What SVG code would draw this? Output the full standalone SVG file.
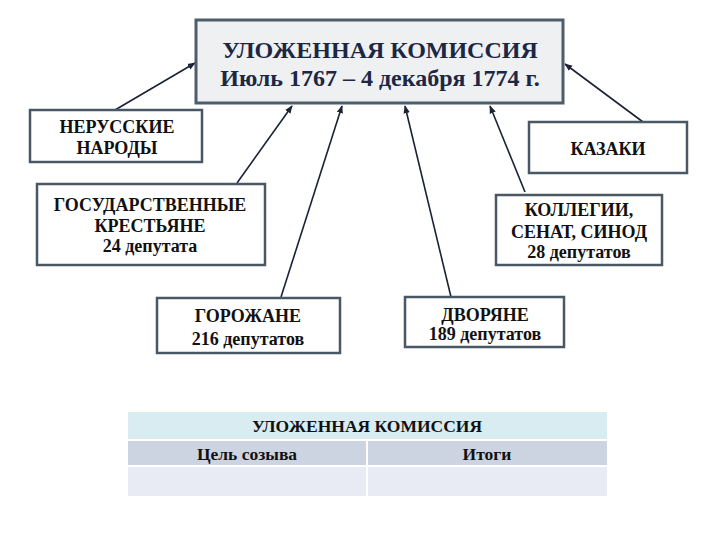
<svg xmlns="http://www.w3.org/2000/svg" width="720" height="540" viewBox="0 0 720 540">
<style>
.box{fill:#ffffff;stroke:#4a5866;stroke-width:2.5}
.main{fill:#eef0f1;stroke:#4f5d6b;stroke-width:3}
.t{font-family:"Liberation Serif","Times New Roman","DejaVu Serif",serif;font-weight:bold;text-anchor:middle;fill:#111111}
.cap{font-size:18px}
.num{font-size:18px}
.title{font-size:24px;fill:#1c2744}
.conn line{stroke:#1c2236;stroke-width:1.6;marker-end:url(#ah)}
.th{font-size:17.5px}
</style>
<defs>
<marker id="ah" viewBox="0 0 10 10" refX="9" refY="5" markerWidth="5" markerHeight="5" orient="auto" markerUnits="strokeWidth">
<path d="M0,1 L10,5 L0,9 z" fill="#1c2236"/>
</marker>
</defs>
<rect x="0" y="0" width="720" height="540" fill="#ffffff"/>
<g id="connectors" class="conn">
<line x1="115" y1="110" x2="195" y2="63"/>
<line x1="643" y1="122" x2="565" y2="64"/>
<line x1="237" y1="183" x2="292" y2="106"/>
<line x1="281" y1="297" x2="342" y2="106"/>
<line x1="451" y1="297" x2="405" y2="106"/>
<line x1="525" y1="192" x2="490" y2="106"/>
</g>
<g id="main">
<rect class="main" x="196" y="20" width="367" height="83"/>
<text class="t title" x="380" y="58">УЛОЖЕННАЯ КОМИССИЯ</text>
<text class="t title" x="380" y="86">Июль 1767 – 4 декабря 1774 г.</text>
</g>
<g id="nerusskie">
<rect class="box" x="30" y="110" width="172" height="52"/>
<text class="t cap" x="117" y="133">НЕРУССКИЕ</text>
<text class="t cap" x="117" y="154">НАРОДЫ</text>
</g>
<g id="krestyane">
<rect class="box" x="37" y="184" width="228" height="81"/>
<text class="t cap" x="150" y="211">ГОСУДАРСТВЕННЫЕ</text>
<text class="t cap" x="150" y="232">КРЕСТЬЯНЕ</text>
<text class="t num" x="150" y="252">24 депутата</text>
</g>
<g id="kazaki">
<rect class="box" x="529" y="122" width="158" height="51"/>
<text class="t cap" x="608" y="155">КАЗАКИ</text>
</g>
<g id="kollegii">
<rect class="box" x="496" y="195" width="166" height="70"/>
<text class="t cap" x="579" y="216">КОЛЛЕГИИ,</text>
<text class="t cap" x="579" y="238">СЕНАТ, СИНОД</text>
<text class="t num" x="579" y="258">28 депутатов</text>
</g>
<g id="gorozhane">
<rect class="box" x="157" y="298" width="183" height="55"/>
<text class="t cap" x="248" y="322">ГОРОЖАНЕ</text>
<text class="t num" x="248" y="345">216 депутатов</text>
</g>
<g id="dvoryane">
<rect class="box" x="405" y="297" width="159" height="50"/>
<text class="t cap" x="485" y="321">ДВОРЯНЕ</text>
<text class="t num" x="485" y="340">189 депутатов</text>
</g>
<g id="table">
<rect x="128" y="412" width="479" height="28" fill="#d9ecf2"/>
<rect x="128" y="440" width="479" height="26" fill="#cdd4e1"/>
<rect x="128" y="466" width="479" height="30" fill="#e8ebf3"/>
<line x1="128" y1="440" x2="607" y2="440" stroke="#ffffff" stroke-width="2"/>
<line x1="128" y1="466" x2="607" y2="466" stroke="#ffffff" stroke-width="2"/>
<line x1="367" y1="440" x2="367" y2="496" stroke="#ffffff" stroke-width="2"/>
<text class="t th" x="367" y="432">УЛОЖЕННАЯ КОМИССИЯ</text>
<text class="t th" x="247" y="460">Цель созыва</text>
<text class="t th" x="487" y="460">Итоги</text>
</g>
</svg>
